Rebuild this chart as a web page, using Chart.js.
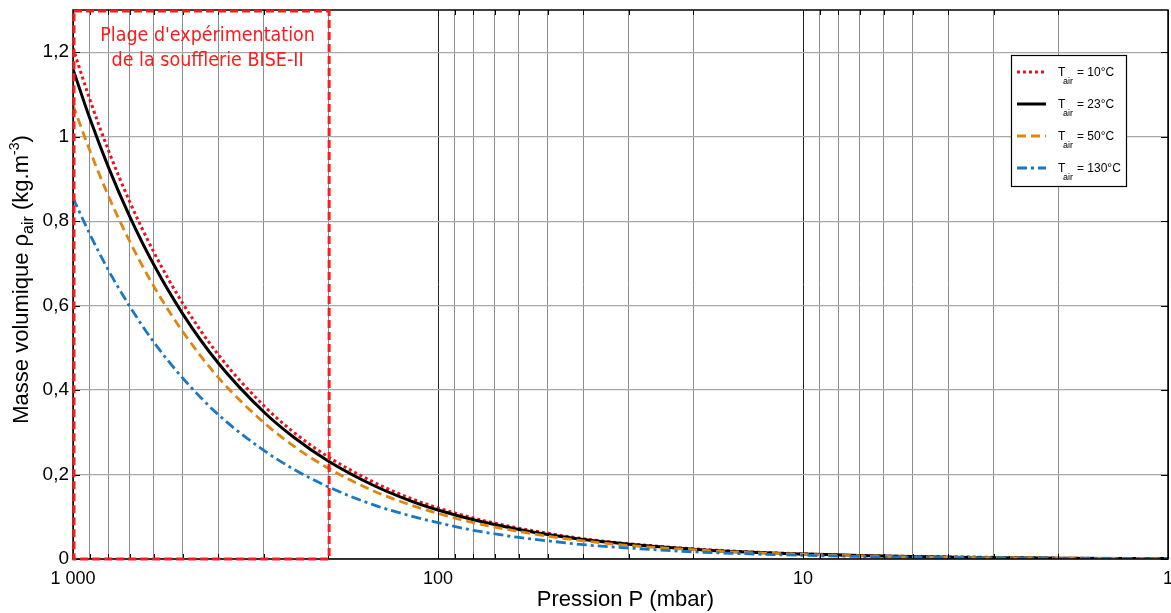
<!DOCTYPE html>
<html>
<head>
<meta charset="utf-8">
<script src="https://cdn.jsdelivr.net/npm/chart.js@4.4.1/dist/chart.umd.min.js"></script>
<style>
  html, body { margin: 0; padding: 0; background: #fff; }
  #wrap { width: 1171px; height: 613px; position: relative; }
</style>
</head>
<body>
<div id="wrap"><canvas id="myChart"></canvas></div>
<script>
// pressure (mbar) and air density (kg/m3)
const pressures = [1000, 900, 800, 700, 600, 500, 400, 300, 250, 200, 150, 120, 100, 80, 60, 50, 40, 30, 20, 15, 10, 7, 5, 3, 2, 1];
const rho10  = [1.21, 1.089, 0.968, 0.847, 0.726, 0.605, 0.484, 0.363, 0.302, 0.242, 0.182, 0.145, 0.121, 0.097, 0.073, 0.061, 0.048, 0.036, 0.024, 0.018, 0.012, 0.008, 0.006, 0.004, 0.002, 0.001];
const rho23  = [1.16, 1.044, 0.928, 0.812, 0.696, 0.58, 0.464, 0.348, 0.29, 0.232, 0.174, 0.139, 0.116, 0.093, 0.07, 0.058, 0.046, 0.035, 0.023, 0.017, 0.012, 0.008, 0.006, 0.003, 0.002, 0.001];
const rho50  = [1.075, 0.968, 0.86, 0.753, 0.645, 0.538, 0.43, 0.323, 0.269, 0.215, 0.161, 0.129, 0.108, 0.086, 0.065, 0.054, 0.043, 0.032, 0.022, 0.016, 0.011, 0.0075, 0.005, 0.003, 0.002, 0.001];
const rho130 = [0.855, 0.77, 0.684, 0.599, 0.513, 0.428, 0.342, 0.257, 0.214, 0.171, 0.128, 0.103, 0.086, 0.068, 0.051, 0.043, 0.034, 0.026, 0.017, 0.013, 0.0086, 0.006, 0.004, 0.0026, 0.0017, 0.0009];

const xTicks = [1, 2, 3, 4, 5, 6, 7, 8, 9, 10, 20, 30, 40, 50, 60, 70, 80, 90, 100, 200, 300, 400, 500, 600, 700, 800, 900, 1000];
const xLabels = { 1000: '1 000', 100: '100', 10: '10', 1: '1' };
const yTicks = [0, 0.2, 0.4, 0.6, 0.8, 1, 1.2];

const legendLabels = ['10°C', '23°C', '50°C', '130°C'];
const zoneLines = ["Plage d'expérimentation", 'de la soufflerie BISE-II'];
const zoneFrom = 1000, zoneTo = 200;

function pts(vals) {
  return pressures.map((p, i) => ({ x: p, y: vals[i] }));
}

const data = {
  datasets: [{
    label: 'Tair = ' + legendLabels[0],
    data: pts(rho10),
    borderColor: '#e8141c',
    borderWidth: 3,
    borderDash: [3, 3],
    order: 4
  }, {
    label: 'Tair = ' + legendLabels[1],
    data: pts(rho23),
    borderColor: '#000000',
    borderWidth: 3,
    borderDash: [],
    order: 3
  }, {
    label: 'Tair = ' + legendLabels[2],
    data: pts(rho50),
    borderColor: '#e08510',
    borderWidth: 2.8,
    borderDash: [9, 5],
    order: 2
  }, {
    label: 'Tair = ' + legendLabels[3],
    data: pts(rho130),
    borderColor: '#1a78c2',
    borderWidth: 2.8,
    borderDash: [10, 4, 3, 4],
    order: 1
  }]
};

// frame, inner ticks, red zone, legend and axis titles
const extras = {
  id: 'extras',
  afterDatasetsDraw(chart) {
    const ctx = chart.ctx;
    const a = chart.chartArea;
    const xs = chart.scales.x, ys = chart.scales.y;
    ctx.save();

    // small inward ticks
    ctx.strokeStyle = '#000';
    ctx.lineWidth = 1;
    ctx.beginPath();
    yTicks.forEach(v => {
      const y = Math.round(ys.getPixelForValue(v)) + 0.5;
      ctx.moveTo(a.left, y); ctx.lineTo(a.left + 7, y);
      ctx.moveTo(a.right, y); ctx.lineTo(a.right - 7, y);
    });
    xTicks.forEach(v => {
      const x = Math.round(xs.getPixelForValue(v)) + 0.5;
      ctx.moveTo(x, a.bottom); ctx.lineTo(x, a.bottom - 5);
      ctx.moveTo(x, a.top); ctx.lineTo(x, a.top + 5);
    });
    ctx.stroke();

    // frame
    ctx.lineWidth = 1.5;
    ctx.strokeRect(a.left, a.top, a.right - a.left, a.bottom - a.top);

    // red dashed zone
    const zx1 = xs.getPixelForValue(zoneFrom), zx2 = xs.getPixelForValue(zoneTo);
    const zy1 = ys.getPixelForValue(ys.max), zy2 = ys.getPixelForValue(0);
    ctx.strokeStyle = '#ff1a1a';
    ctx.lineWidth = 3;
    ctx.setLineDash([8, 4]);
    ctx.strokeRect(zx1 + 1, zy1 + 1, zx2 - zx1, zy2 - zy1 - 1);
    ctx.setLineDash([]);
    ctx.fillStyle = '#ff1a1a';
    ctx.font = '19.5px "DejaVu Sans Condensed"';
    ctx.textAlign = 'center';
    ctx.textBaseline = 'alphabetic';
    const cx = (zx1 + zx2) / 2 + 7;
    ctx.fillText(zoneLines[0], cx, zy1 + 31);
    ctx.fillText(zoneLines[1], cx, zy1 + 56);

    // legend box
    const lx = a.right - 157, ly = a.top + 45;
    ctx.fillStyle = '#fff';
    ctx.fillRect(lx, ly, 115, 131);
    ctx.strokeStyle = '#000';
    ctx.lineWidth = 1.2;
    ctx.strokeRect(lx + 0.5, ly + 0.5, 115, 131);
    chart.data.datasets.forEach((ds, i) => {
      const yy = ly + 17 + i * 32;
      ctx.strokeStyle = ds.borderColor;
      ctx.lineWidth = 3;
      ctx.setLineDash(ds.borderDash);
      ctx.beginPath();
      ctx.moveTo(lx + 6, yy); ctx.lineTo(lx + 35, yy);
      ctx.stroke();
      ctx.setLineDash([]);
      ctx.fillStyle = '#000';
      ctx.textAlign = 'left';
      ctx.font = '12px "Liberation Sans"';
      ctx.fillText('T', lx + 47, yy + 4);
      ctx.font = '9px "Liberation Sans"';
      ctx.fillText('air', lx + 52, yy + 12);
      ctx.font = '12px "Liberation Sans"';
      ctx.fillText('= ' + legendLabels[i], lx + 66, yy + 4);
    });

    // x title
    ctx.fillStyle = '#000';
    ctx.textAlign = 'center';
    ctx.font = '22px "Liberation Sans"';
    ctx.fillText('Pression P (mbar)', (a.left + a.right) / 2 + 5, a.bottom + 47);

    // y title with sub/superscript
    const parts = [
      { t: 'Masse volumique ', f: '22px "Liberation Sans"', dy: 0 },
      { t: 'ρ', f: '22px "Liberation Sans"', dy: 0 },
      { t: 'air', f: '16px "Liberation Sans"', dy: 5 },
      { t: ' (kg.m', f: '22px "Liberation Sans"', dy: 0 },
      { t: '-3', f: '14px "Liberation Sans"', dy: -9 },
      { t: ')', f: '22px "Liberation Sans"', dy: 0 }
    ];
    let total = 0;
    parts.forEach(p => { ctx.font = p.f; p.w = ctx.measureText(p.t).width; total += p.w; });
    ctx.translate(28, (a.top + a.bottom) / 2 - 5);
    ctx.rotate(-Math.PI / 2);
    ctx.textAlign = 'left';
    let px = -total / 2;
    parts.forEach(p => {
      ctx.font = p.f;
      ctx.fillText(p.t, px, p.dy);
      px += p.w;
    });
    ctx.restore();
  }
};

const config = {
  type: 'line',
  data: data,
  options: {
    responsive: true,
    maintainAspectRatio: false,
    animation: false,
    layout: { padding: { top: 10, right: 3, left: 0, bottom: 0 } },
    elements: {
      point: { radius: 0 },
      line: { cubicInterpolationMode: 'monotone', borderCapStyle: 'butt' }
    },
    plugins: {
      legend: { display: false },
      tooltip: { enabled: false }
    },
    scales: {
      x: {
        type: 'logarithmic',
        reverse: true,
        min: 1,
        max: 1000,
        afterBuildTicks: axis => { axis.ticks = xTicks.map(v => ({ value: v })); },
        afterFit: axis => { axis.height = 54; },
        ticks: {
          autoSkip: false,
          maxRotation: 0,
          padding: 9,
          color: '#000',
          font: { family: 'Liberation Sans', size: 18 },
          callback: v => xLabels[v] || ''
        },
        grid: {
          drawTicks: false,
          color: c => (c.tick && xLabels[c.tick.value] ? '#222' : '#8c8c8c'),
          lineWidth: 1
        },
        border: { display: false }
      },
      y: {
        min: 0,
        max: 1.3,
        afterBuildTicks: axis => { axis.ticks = yTicks.map(v => ({ value: v })); },
        afterFit: axis => { axis.width = 73; axis.paddingTop = 0; axis.paddingBottom = 0; },
        ticks: {
          padding: 4,
          color: '#000',
          font: { family: 'Liberation Sans', size: 19 },
          callback: v => String(+v.toFixed(1)).replace('.', ',')
        },
        grid: { drawTicks: false, color: '#a8a8a8', lineWidth: 1.2 },
        border: { display: false }
      }
    }
  },
  plugins: [extras]
};

new Chart(document.getElementById('myChart'), config);
</script>
</body>
</html>
